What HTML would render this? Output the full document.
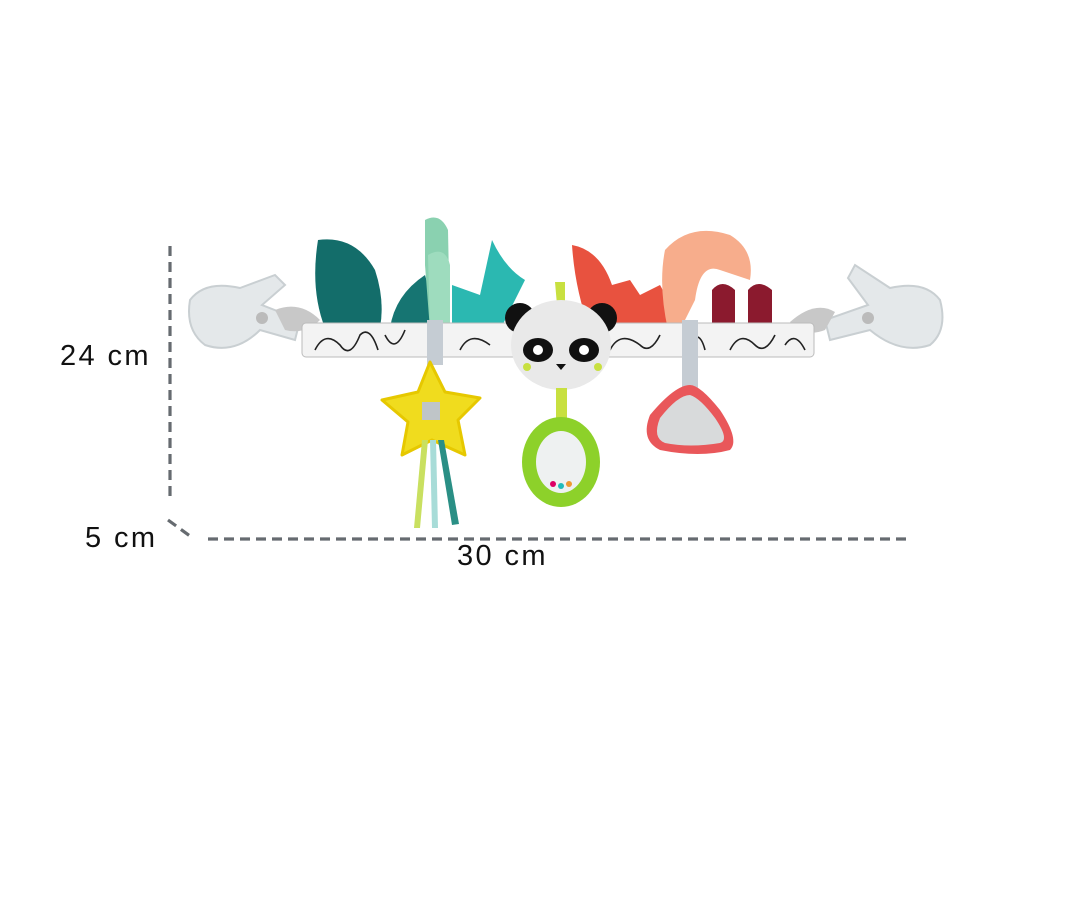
<!DOCTYPE html>
<html><head><style>
html,body{margin:0;padding:0;background:#fff;}
body{width:1080px;height:900px;position:relative;overflow:hidden;font-family:"Liberation Sans",sans-serif;}
.t{position:absolute;font-size:29px;letter-spacing:2.4px;color:#111;}
</style></head><body>
<svg width="1080" height="900" style="position:absolute;left:0;top:0">
<g stroke="#666b70" stroke-width="3.2" stroke-dasharray="10,6" fill="none">
<line x1="170" y1="246" x2="170" y2="498"/>
<line x1="168" y1="520" x2="190" y2="536"/>
<line x1="208" y1="539" x2="908" y2="539"/>
</g>
<!-- clips -->
<g fill="#e4e8ea" stroke="#c9cfd2" stroke-width="2">
<path d="M190 300 Q205 280 240 288 L275 275 L285 285 L262 305 L300 320 L295 340 L260 330 Q235 355 205 345 Q185 330 190 300Z"/>
<path d="M940 300 Q925 280 890 288 L855 265 L848 278 L868 305 L825 320 L830 340 L870 330 Q900 355 930 345 Q948 330 940 300Z"/>
</g>
<circle cx="262" cy="318" r="6" fill="#bbb"/><circle cx="868" cy="318" r="6" fill="#bbb"/>
<path d="M275 310 Q300 300 320 320 Q305 335 285 330Z" fill="#c8c8c8"/>
<path d="M835 312 Q815 300 790 322 Q805 338 825 330Z" fill="#c8c8c8"/>
<!-- leaves -->
<path d="M318 240 Q355 235 375 270 Q385 300 380 328 L325 328 Q310 290 318 240Z" fill="#136d6a"/>
<path d="M390 328 Q395 295 425 275 L440 328Z" fill="#167572"/>
<path d="M425 220 Q440 212 448 230 L450 330 L430 330 L425 265Z" fill="#8ad1b0"/>
<path d="M428 255 Q445 245 450 265 L450 330 L430 330Z" fill="#9edcbe"/>
<path d="M452 330 L452 285 L480 295 L492 240 Q505 268 525 280 L510 310 L500 330Z" fill="#2bb8b1"/>
<path d="M572 245 Q600 250 612 285 L630 280 L640 295 L660 285 Q672 305 665 330 L590 330 Q575 290 572 245Z" fill="#e8523f"/>
<path d="M665 250 Q690 222 730 235 Q755 250 750 280 L720 270 Q700 262 695 300 L680 330 L668 330 Q658 285 665 250Z" fill="#f7ad8c"/>
<path d="M712 330 L712 290 Q722 278 735 290 L735 330Z" fill="#8b1a2e"/>
<path d="M748 330 L748 290 Q758 278 772 290 L772 330Z" fill="#8b1a2e"/>
<!-- bar -->
<rect x="302" y="323" width="512" height="34" rx="4" fill="#f3f3f3" stroke="#bbb"/>
<g stroke="#222" stroke-width="1.6" fill="none">
<path d="M315 350 Q325 330 340 345 Q350 360 360 335 Q370 325 378 350 M385 335 Q395 355 405 330 M460 350 Q470 330 490 345 M610 350 Q620 330 640 345 Q650 355 660 335 M690 340 Q700 330 705 350 M730 350 Q740 330 755 345 Q765 355 775 335 M785 345 Q795 330 805 350"/>
</g>
<!-- straps -->
<rect x="427" y="320" width="16" height="45" fill="#c5ccd3"/>
<rect x="682" y="320" width="16" height="70" fill="#c5ccd3"/>
<!-- star -->
<path d="M430 362 L445 392 L480 398 L458 420 L465 455 L432 440 L402 455 L408 422 L382 400 L418 392Z" fill="#f0dc1e" stroke="#e6c800" stroke-width="3" stroke-linejoin="round"/>
<rect x="422" y="402" width="18" height="18" fill="#bfc5c8"/>
<path d="M422 440 L414 528 L420 528 L428 440Z" fill="#c9e060"/>
<path d="M430 440 L432 528 L438 528 L436 440Z" fill="#a8dcd8"/>
<path d="M438 440 L452 525 L459 524 L444 440Z" fill="#2a8f85"/>
<!-- panda -->
<circle cx="520" cy="318" r="15" fill="#111"/><circle cx="602" cy="318" r="15" fill="#111"/>
<path d="M555 282 L557 305 L565 305 L565 282Z" fill="#c8e040"/>
<ellipse cx="561" cy="345" rx="50" ry="45" fill="#e9e9e9"/>
<ellipse cx="538" cy="350" rx="15" ry="12" fill="#111"/><ellipse cx="584" cy="350" rx="15" ry="12" fill="#111"/>
<circle cx="538" cy="350" r="5" fill="#fff"/><circle cx="584" cy="350" r="5" fill="#fff"/>
<path d="M556 364 L566 364 L561 370Z" fill="#111"/>
<circle cx="527" cy="367" r="4" fill="#c8e040"/><circle cx="598" cy="367" r="4" fill="#c8e040"/>
<rect x="556" y="388" width="11" height="35" fill="#c8e040"/>
<ellipse cx="561" cy="462" rx="39" ry="45" fill="#8dd12a"/>
<ellipse cx="561" cy="462" rx="25" ry="31" fill="#eef1f1"/>
<circle cx="553" cy="484" r="3" fill="#d06"/><circle cx="561" cy="486" r="3" fill="#2bb"/><circle cx="569" cy="484" r="3" fill="#e93"/>
<!-- mirror -->
<path d="M690 385 Q700 385 720 410 Q740 440 730 450 Q700 458 660 450 Q640 440 650 415 Q675 385 690 385Z" fill="#e9575a"/>
<path d="M690 395 Q700 398 715 418 Q730 440 720 443 Q690 448 665 443 Q652 438 660 418 Q678 395 690 395Z" fill="#d8dadb"/>
</svg>
<div class="t" style="left:60px;top:340px">24 cm</div>
<div class="t" style="left:85px;top:522px">5 cm</div>
<div class="t" style="left:457px;top:540px">30 cm</div>
</body></html>
